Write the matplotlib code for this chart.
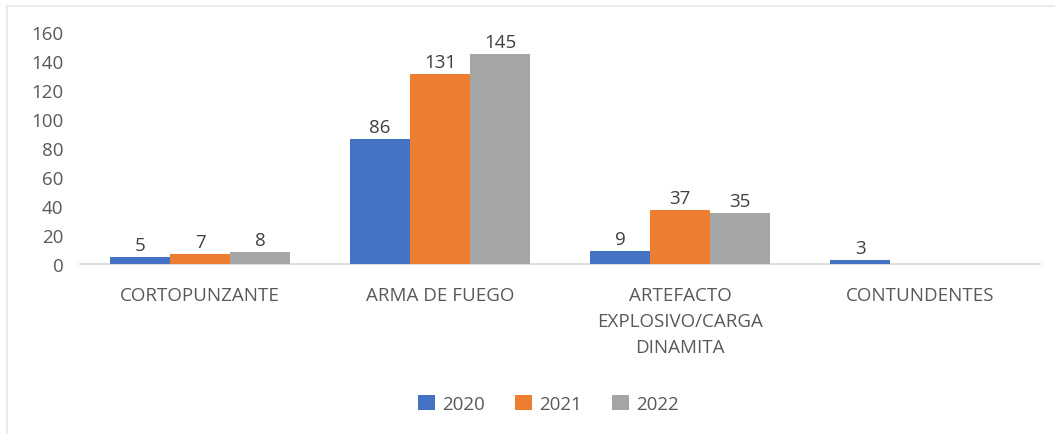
import matplotlib.pyplot as plt
import numpy as np
from matplotlib.lines import Line2D

categorias = ["CORTOPUNZANTE", "ARMA DE FUEGO", "ARTEFACTO\nEXPLOSIVO/CARGA\nDINAMITA", "CONTUNDENTES"]
anios = ["2020", "2021", "2022"]
valores_2020 = [5, 86, 9, 3]
valores_2021 = [7, 131, 37, None]
valores_2022 = [8, 145, 35, None]
colores = ["#4472C4", "#ED7D31", "#A5A5A5"]

plt.rcParams['font.family'] = ['Open Sans', 'DejaVu Sans']
gris = "#595959"
fs = 13.5

fig = plt.figure(figsize=(10.55, 4.35), dpi=100)
ax = fig.add_axes([80 / 1055, 0.391, 960 / 1055, 0.533])

x = np.arange(len(categorias))
w = 0.25
series = [valores_2020, valores_2021, valores_2022]
for i, (serie, anio, col) in enumerate(zip(series, anios, colores)):
    vals = [v if v is not None else 0 for v in serie]
    pos = x + (i - 1) * w
    bars = ax.bar(pos, vals, width=w, color=col, label=anio, zorder=3)
    for b, v in zip(bars, serie):
        if v is not None:
            ax.text(b.get_x() + b.get_width() / 2, v + 2, str(v), ha='center', va='bottom',
                    fontsize=fs, color="#404040")

ax.set_xlim(-0.5, 3.5)
ax.set_ylim(0, 160)
ax.set_yticks(range(0, 161, 20))
ax.set_xticks(x)
ax.set_xticklabels(categorias, fontsize=fs, color=gris, linespacing=1.55)
ax.tick_params(axis='y', labelsize=fs, labelcolor=gris, length=0, pad=12)
ax.tick_params(axis='x', length=0, pad=16)
for s in ['top', 'right', 'left']:
    ax.spines[s].set_visible(False)
ax.spines['bottom'].set_color("#D9D9D9")
ax.spines['bottom'].set_linewidth(1.2)

fig.legend(loc='center', bbox_to_anchor=(0.52, 0.069), ncol=3, frameon=False,
           fontsize=fs, handlelength=0.9, handleheight=0.9, columnspacing=1.6,
           handletextpad=0.4, labelcolor=gris)

# marco del grafico
fig.add_artist(Line2D([7 / 1055, 1.0], [1 - 7 / 435, 1 - 7 / 435], color="#E6E6E6", lw=1.2))
fig.add_artist(Line2D([7 / 1055, 7 / 1055], [0, 1 - 7 / 435], color="#E6E6E6", lw=1.2))

fig.savefig("out.png", dpi=100)
